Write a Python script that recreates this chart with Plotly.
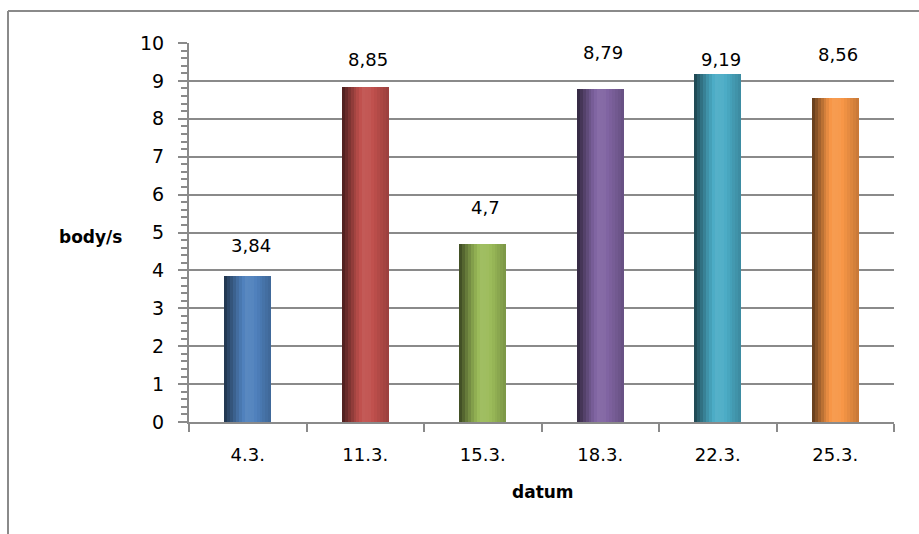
import plotly.graph_objects as go

# --- data -------------------------------------------------------------
dates = ["4.3.", "11.3.", "15.3.", "18.3.", "22.3.", "25.3."]
points = [3.84, 8.85, 4.7, 8.79, 9.19, 8.56]
bar_colors = ["#4F81BD", "#C0504D", "#9BBB59", "#8064A2", "#4BACC6", "#F79646"]

# vertical offset (px) of each value label above its bar
label_lift = [31, 27, 36, 36, 14, 43]

W, H = 919, 534
L, R, T, B = 189, 25, 43, 112
GRID = "#8a8a8a"
FONT = "DejaVu Sans"


def hex_rgb(h):
    h = h.lstrip("#")
    return tuple(int(h[i:i + 2], 16) for i in (0, 2, 4))


def shade(h, f):
    r, g, b = hex_rgb(h)
    if f <= 1:
        c = [int(v * f) for v in (r, g, b)]
    else:
        c = [int(v + (255 - v) * (f - 1)) for v in (r, g, b)]
    return "rgb(%d,%d,%d)" % tuple(min(255, max(0, v)) for v in c)


# cylinder-like horizontal shading profile across a bar
profile = [(0.0, 0.38), (0.15, 0.65), (0.3, 0.88), (0.45, 1.06), (0.6, 1.04),
           (0.8, 0.92), (1.0, 0.8)]


def factor(t):
    for (t0, f0), (t1, f1) in zip(profile, profile[1:]):
        if t0 <= t <= t1:
            return f0 + (f1 - f0) * (t - t0) / (t1 - t0)
    return profile[-1][1]


fig = go.Figure()

bar_w = 0.4
n = 16
strip = bar_w / n
for i in range(n):
    t = (i + 0.5) / n
    fig.add_trace(go.Bar(
        x=dates, y=points,
        width=strip * 1.6 if i < n - 1 else strip,
        offset=-bar_w / 2 + i * strip,
        marker=dict(color=[shade(c, factor(t)) for c in bar_colors],
                    line=dict(width=0)),
        showlegend=False, hoverinfo="skip",
    ))

# value labels
for d, v, lift in zip(dates, points, label_lift):
    fig.add_annotation(
        x=d, y=v, text=("%g" % v).replace(".", ","), showarrow=False,
        xanchor="center", yanchor="middle", yshift=lift, xshift=3,
        font=dict(family=FONT, size=18, color="#000"),
    )

# axis titles
pw, ph = W - L - R, H - T - B
fig.add_annotation(xref="paper", yref="paper", x=(90 - L) / pw,
                   y=(H - B - 237) / ph, xanchor="center", yanchor="middle",
                   text="<b>body/s</b>", showarrow=False,
                   font=dict(family=FONT, size=17, color="#000"))
fig.add_annotation(xref="paper", yref="paper", x=(543 - L) / pw,
                   y=(H - B - 492) / ph, xanchor="center", yanchor="middle",
                   text="<b>datum</b>", showarrow=False,
                   font=dict(family=FONT, size=17, color="#000"))

# chart-area frame (top and left edges)
fx = (8 - L) / pw
fy = 1 + (T - 11) / ph
fig.add_shape(type="line", xref="paper", yref="paper", x0=fx, x1=fx,
              y0=-0.4, y1=fy, line=dict(color=GRID, width=2))
fig.add_shape(type="line", xref="paper", yref="paper", x0=fx, x1=1.2,
              y0=fy, y1=fy, line=dict(color=GRID, width=2))

fig.update_layout(
    width=W, height=H,
    margin=dict(l=L, r=R, t=T, b=B),
    paper_bgcolor="white", plot_bgcolor="white",
    barmode="overlay", bargap=0,
    showlegend=False,
    font=dict(family=FONT, size=18, color="#000"),
)
fig.update_xaxes(
    type="category", tickson="boundaries",
    showline=True, linecolor=GRID, linewidth=2,
    ticks="outside", ticklen=8, tickwidth=2, tickcolor=GRID,
    ticklabelstandoff=15,
    showgrid=False, zeroline=False,
    tickfont=dict(family=FONT, size=18, color="#000"),
)
fig.update_yaxes(
    range=[0, 10], dtick=1, tick0=0,
    showline=True, linecolor=GRID, linewidth=2,
    ticks="outside", ticklen=9, tickwidth=2, tickcolor=GRID,
    ticklabelstandoff=10,
    showgrid=True, gridcolor=GRID, gridwidth=2,
    zeroline=False,
    minor=dict(dtick=0.2, ticks="outside", ticklen=6, tickwidth=2,
               tickcolor=GRID, showgrid=False),
    tickfont=dict(family=FONT, size=19, color="#000"),
)

fig.write_html("out.html")
